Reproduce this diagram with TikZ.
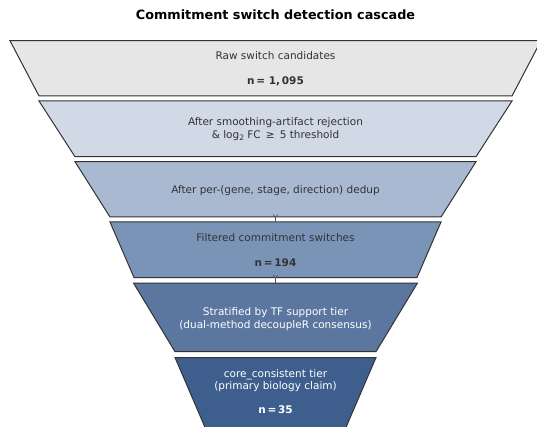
\documentclass[tikz,border=0pt]{standalone}
\usepackage{fontspec}
\setmainfont{DejaVu Sans}
\definecolor{edgecol}{HTML}{333333}
\definecolor{txtdark}{HTML}{333333}
\definecolor{fA}{HTML}{E6E6E6}
\definecolor{fB}{HTML}{D1D9E6}
\definecolor{fC}{HTML}{A8B9D1}
\definecolor{fD}{HTML}{7A94B7}
\definecolor{fE}{HTML}{5B77A0}
\definecolor{fF}{HTML}{3E5F8E}
\definecolor{arrcol}{HTML}{555555}
\tikzset{
  stage/.style={draw=edgecol, line width=1pt, line join=miter},
  lbl/.style={font=\fontsize{10.5}{12.8}\selectfont, align=center, inner sep=0pt, text=txtdark},
  lblw/.style={lbl, text=white},
  nlbl/.style={font=\fontsize{10.5}{12.8}\selectfont\bfseries, inner sep=0pt, text=txtdark, anchor=base},
  nlblw/.style={nlbl, text=white},
  gaparrow/.style={draw=arrcol, line width=0.7pt},
}
\newcommand{\sub}[1]{\raisebox{-0.35ex}{\fontsize{7.5}{7.5}\selectfont #1}}
\begin{document}
\begin{tikzpicture}[x=1pt,y=-1pt]
\useasboundingbox (0,0) rectangle (537,427);
\clip (0,0) rectangle (537,427);
% title
\node[font=\fontsize{12.8}{15}\selectfont\bfseries, anchor=base, inner sep=0pt] (title) at (275.5,19.8) {Commitment switch detection cascade};
% stages
\path[stage, fill=fA] (10,40.7) -- (541,40.7) -- (512,96) -- (39,96) -- cycle;
\path[stage, fill=fB] (39,101) -- (512,101) -- (476,156.7) -- (75,156.7) -- cycle;
\path[stage, fill=fC] (75,161.7) -- (476,161.7) -- (441,217) -- (110,217) -- cycle;
\path[stage, fill=fD] (110,222) -- (441,222) -- (417,277.5) -- (134,277.5) -- cycle;
\path[stage, fill=fE] (133.5,283) -- (417.5,283) -- (376,351.7) -- (175,351.7) -- cycle;
\path[stage, fill=fF] (175,357.5) -- (376,357.5) -- (345.5,428.5) -- (205.5,428.5) -- cycle;
% arrows between stages (visible in the gaps)
\coordinate (t1) at (275.5,217.6);
\coordinate (b1) at (275.5,222.3);
\coordinate (t2) at (275.5,278.1);
\coordinate (b2) at (275.5,283.3);
\draw[gaparrow] (t1) -- (b1);
\draw[gaparrow] ([xshift=-2.2pt,yshift=3pt]t1) -- (t1) -- ([xshift=2.2pt,yshift=3pt]t1);
\draw[gaparrow] (t2) -- (b2);
\draw[gaparrow] ([xshift=-2.2pt,yshift=3pt]t2) -- (t2) -- ([xshift=2.2pt,yshift=3pt]t2);
% labels
\node[lbl, anchor=base] (l1) at (275.5,59.6) {Raw switch candidates};
\node[nlbl] (n1) at (275.5,84.6) {n\,=\ 1,\,095};
\node[lbl] (l2) at (275.5,129.4) {After smoothing-artifact rejection\\\& log\sub{2} FC~\,≥~\,5 threshold};
\node[lbl, anchor=base] (l3) at (275.5,193.2) {After per-(gene, stage, direction) dedup};
\node[lbl, anchor=base] (l4) at (275.5,241.2) {Filtered commitment switches};
\node[nlbl] (n4) at (275.5,266.2) {n\,=\,194};
\node[lblw] (l5) at (275.5,318.8) {Stratified by TF support tier\\(dual-method decoupleR consensus)};
\node[lblw] (l6) at (275.5,380.6) {core\_consistent tier\\(primary biology claim)};
\node[nlblw] (n6) at (275.5,413.9) {n\,=\,35};
\end{tikzpicture}
\end{document}
